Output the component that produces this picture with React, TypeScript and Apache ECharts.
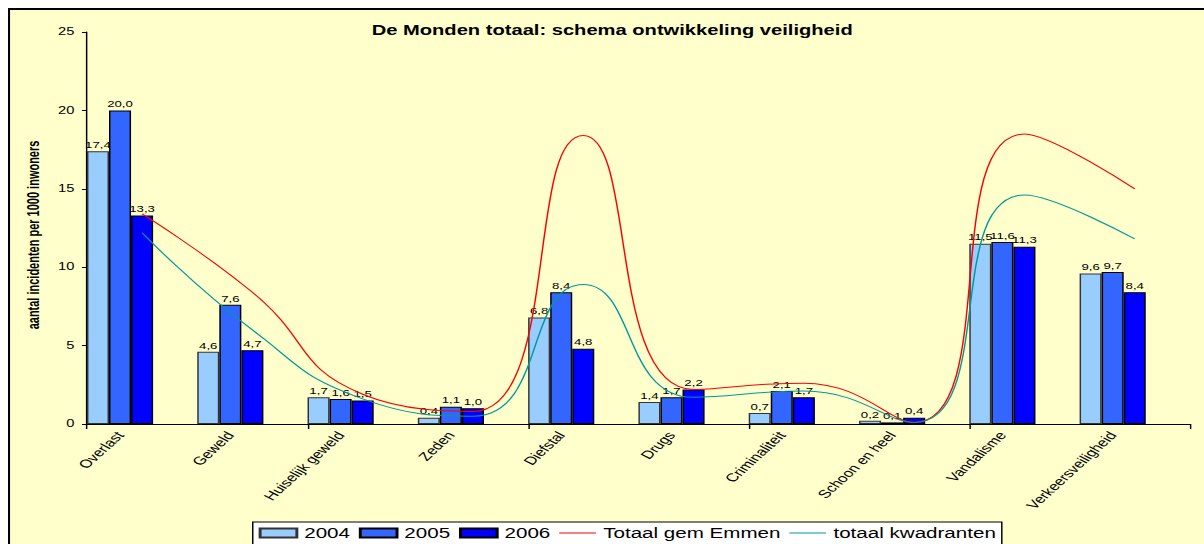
import React, { useEffect, useRef } from "react";
import * as echarts from "echarts";

const categories = [
  "Overlast",
  "Geweld",
  "Huiselijk geweld",
  "Zeden",
  "Diefstal",
  "Drugs",
  "Criminaliteit",
  "Schoon en heel",
  "Vandalisme",
  "Verkeersveiligheid",
];
const v2004 = [17.4, 4.6, 1.7, 0.4, 6.8, 1.4, 0.7, 0.2, 11.5, 9.6];
const v2005 = [20.0, 7.6, 1.6, 1.1, 8.4, 1.7, 2.1, 0.1, 11.6, 9.7];
const v2006 = [13.3, 4.7, 1.5, 1.0, 4.8, 2.2, 1.7, 0.4, 11.3, 8.4];
const totaalEmmen = [13.4, 8.4, 1.9, 0.8, 18.4, 2.2, 2.6, 0.1, 18.5, 15.0];
const totaalKwadranten = [12.2, 6.0, 1.6, 0.5, 8.9, 1.7, 2.1, 0.1, 14.6, 11.8];
const emptySlot = categories.map(() => null);

const legendNames = ["2004", "2005", "2006", "Totaal gem Emmen", "totaal kwadranten"];
const titleText = "De Monden totaal: schema ontwikkeling veiligheid";
const yName = "aantal incidenten per 1000 inwoners";

const fmt = (p: any) => Number(p.value).toFixed(1).replace(".", ",");

// the reference picture is a chart stretched horizontally
const STRETCH = 1.47;
const LINE_ICON = "path://M0,0H30V1.4H0Z";

export default function App() {
  const ref = useRef<HTMLDivElement>(null);
  useEffect(() => {
    if (!ref.current) return;
    const chart = echarts.init(ref.current, null, { renderer: "svg" });
    const font = "Liberation Sans, Arial, sans-serif";
    const barLabel = {
      show: true,
      position: "top",
      distance: 2,
      formatter: fmt,
      color: "#000",
      fontSize: 9,
      fontFamily: font,
    };
    const gridPos = { top: 24, height: 392, width: 750.3 };
    chart.setOption({
      animation: false,
      backgroundColor: "#FFFFCC",
      textStyle: { fontFamily: font },
      graphic: [
        {
          type: "line",
          shape: { x1: 0.7, y1: 0, x2: 0.7, y2: 560 },
          style: { stroke: "#000", lineWidth: 1.4 },
        },
        {
          type: "line",
          shape: { x1: 0, y1: 1, x2: 830, y2: 1 },
          style: { stroke: "#000", lineWidth: 2 },
        },
        {
          type: "text",
          x: 411,
          y: 22,
          style: {
            text: titleText,
            textAlign: "center",
            textVerticalAlign: "middle",
            font: "bold 13.7px " + font,
            fill: "#000",
          },
        },
      ],
      legend: {
        left: 166.5,
        top: 514,
        data: legendNames.map((n, i) => ({ name: n, icon: i < 3 ? "rect" : LINE_ICON })),
        backgroundColor: "#fff",
        borderColor: "#000",
        borderWidth: 1,
        borderRadius: 0,
        padding: [4, 4, 10, 4],
        itemGap: 6,
        itemWidth: 25,
        itemHeight: 9,
        textStyle: { fontSize: 14, color: "#000", fontFamily: font },
      },
      grid: [
        { left: 53.7, ...gridPos },
        { left: 38.7, ...gridPos },
      ],
      xAxis: [
        {
          type: "category",
          gridIndex: 0,
          data: categories,
          axisLine: { lineStyle: { color: "#000", width: 1 } },
          axisTick: { show: true, length: 5, lineStyle: { color: "#000" } },
          axisLabel: { show: false },
        },
        {
          type: "category",
          gridIndex: 1,
          data: categories,
          axisLine: { show: false },
          axisTick: { show: false },
          axisLabel: {
            show: true,
            rotate: 53,
            interval: 0,
            margin: 9,
            fontSize: 11.5,
            color: "#000",
            fontFamily: font,
          },
        },
      ],
      yAxis: [
        {
          type: "value",
          gridIndex: 0,
          min: 0,
          max: 25,
          interval: 5,
          name: yName,
          nameLocation: "middle",
          nameGap: 31,
          nameTextStyle: {
            fontSize: 11,
            fontWeight: "bold",
            color: "#000",
            fontFamily: font,
            padding: [0, 14, 0, 0],
          },
          axisLine: { show: true, lineStyle: { color: "#000", width: 1 } },
          axisTick: { show: true, length: 3.4, lineStyle: { color: "#000" } },
          axisLabel: { fontSize: 10, color: "#000", margin: 8.5, fontFamily: font },
          splitLine: { show: false },
        },
        { type: "value", gridIndex: 1, show: false, min: 0, max: 25 },
      ],
      series: [
        {
          name: "2004",
          type: "bar",
          data: v2004,
          barGap: "0%",
          barCategoryGap: "0%",
          itemStyle: { color: "#99CCFF", borderColor: "#333", borderWidth: 1 },
          label: barLabel,
        },
        {
          name: "2005",
          type: "bar",
          data: v2005,
          itemStyle: { color: "#3366FF", borderColor: "#000", borderWidth: 1 },
          label: barLabel,
        },
        {
          name: "2006",
          type: "bar",
          data: v2006,
          itemStyle: { color: "#0000FF", borderColor: "#000", borderWidth: 1 },
          label: barLabel,
        },
        { name: "_slot1", type: "bar", data: emptySlot },
        { name: "_slot2", type: "bar", data: emptySlot },
        {
          name: "Totaal gem Emmen",
          type: "line",
          data: totaalEmmen,
          smooth: 0.5,
          symbol: "none",
          lineStyle: { color: "#FF0000", width: 1 },
          itemStyle: { color: "#FF0000" },
        },
        {
          name: "totaal kwadranten",
          type: "line",
          data: totaalKwadranten,
          smooth: 0.5,
          symbol: "none",
          lineStyle: { color: "#009999", width: 1 },
          itemStyle: { color: "#009999" },
        },
      ],
    });
    return () => chart.dispose();
  }, []);
  return (
    <div
      ref={ref}
      style={{
        position: "fixed",
        left: 8,
        top: 8,
        width: 816,
        height: 552,
        transform: `scaleX(${STRETCH})`,
        transformOrigin: "0 0",
      }}
    />
  );
}
